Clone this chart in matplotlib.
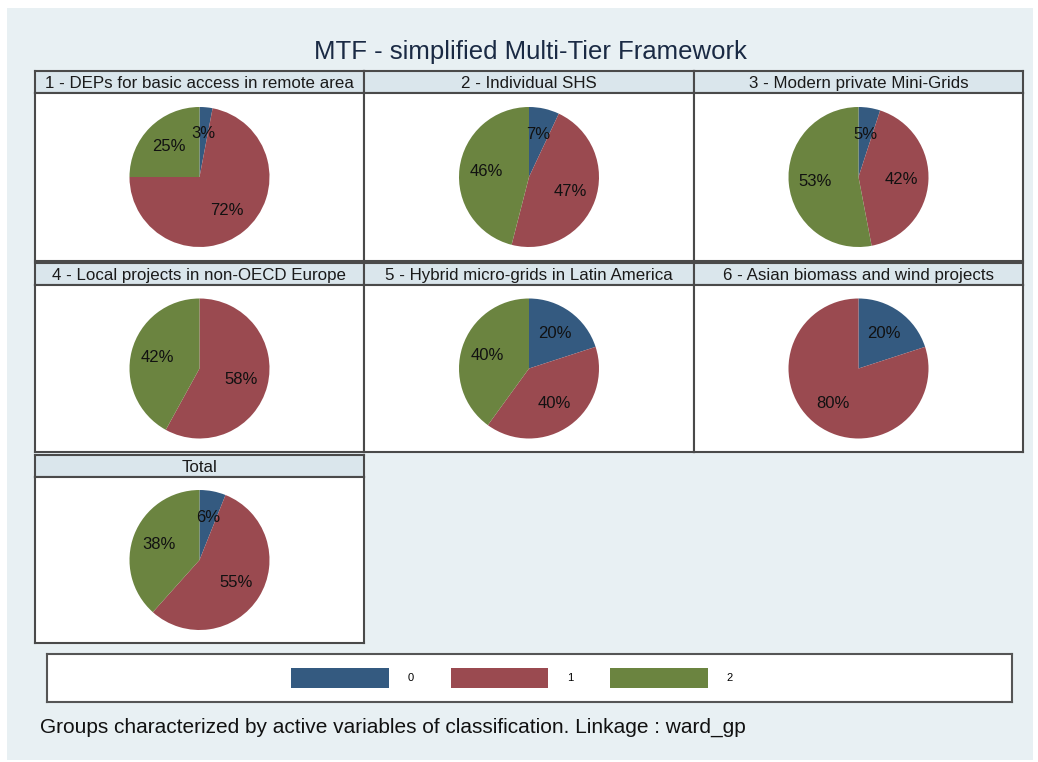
import numpy as np
import matplotlib
matplotlib.use("Agg")
import matplotlib.pyplot as plt
from matplotlib.patches import Patch

plt.rcParams['font.family'] = ['Liberation Sans', 'DejaVu Sans']

W, H = 1038, 762

titles = ["1 - DEPs for basic access in remote area",
          "2 - Individual SHS",
          "3 - Modern private Mini-Grids",
          "4 - Local projects in non-OECD Europe",
          "5 - Hybrid micro-grids in Latin America",
          "6 - Asian biomass and wind projects",
          "Total"]
group0 = [3, 7, 5, 0, 20, 20, 6]
group1 = [72, 47, 42, 58, 40, 80, 55]
group2 = [25, 46, 53, 42, 40, 0, 38]
legend_labels = ["0", "1", "2"]
colors = ["#345a80", "#9a4a50", "#6b8440"]

def box(x0, y0, x1, y1):
    return [x0 / W, 1 - y1 / H, (x1 - x0) / W, (y1 - y0) / H]

fig = plt.figure(figsize=(W / 100, H / 100), dpi=100)
fig.patch.set_facecolor("white")

# light background
bg = fig.add_axes(box(7, 8, 1033, 760))
bg.set_facecolor("#e8f0f3")
bg.set_xticks([]); bg.set_yticks([])
for s in bg.spines.values():
    s.set_visible(False)

fig.text(530 / W, 1 - 52 / H, "MTF - simplified Multi-Tier Framework",
         ha="center", va="center", fontsize=18.5, color="#1a2a44")

xs = [35, 364, 694, 1023]
row_tops = [71, 263, 455]
head_h = 22
plot_bottoms = [261, 452, 643]
R = 70.0

def make_label(vals):
    tot = sum(vals)
    def f(p):
        v = p * tot / 100
        return f"{v:.0f}%" if v > 0.5 else ""
    return f

for i, t in enumerate(titles):
    r, c = divmod(i, 3)
    x0, x1 = xs[c], xs[c + 1]
    top = row_tops[r]
    # header strip
    hax = fig.add_axes(box(x0, top, x1, top + head_h))
    hax.set_facecolor("#dae6ec")
    hax.set_xticks([]); hax.set_yticks([])
    for s in hax.spines.values():
        s.set_color("#4a4a4a"); s.set_linewidth(1.5)
    hax.text(0.5, 0.45, t, ha="center", va="center", fontsize=12.2,
             color="#1a1a1a", transform=hax.transAxes)
    # pie area
    y0, y1 = top + head_h, plot_bottoms[r]
    ax = fig.add_axes(box(x0, y0, x1, y1))
    vals = [group0[i], group1[i], group2[i]]
    ax.pie(vals, colors=colors, startangle=90, counterclock=False,
           radius=1, pctdistance=0.62, autopct=make_label(vals),
           wedgeprops=dict(linewidth=0),
           textprops=dict(fontsize=12, color="#111111"))
    ax.set_frame_on(True)
    ax.set_facecolor("white")
    for s in ax.spines.values():
        s.set_visible(True); s.set_color("#4a4a4a"); s.set_linewidth(1.5)
    ax.set_aspect("auto")
    hw = (x1 - x0) / 2 / R
    hh = (y1 - y0) / 2 / R
    ax.set_xlim(-hw, hw)
    ax.set_ylim(-hh, hh)
    ax.set_xticks([]); ax.set_yticks([])

# legend box
lax = fig.add_axes(box(47, 654, 1012, 702))
lax.set_facecolor("white")
lax.set_xticks([]); lax.set_yticks([])
for s in lax.spines.values():
    s.set_color("#555555"); s.set_linewidth(1.5)
handles = [Patch(facecolor=colors[k], edgecolor="none", label=legend_labels[k]) for k in range(3)]
lax.legend(handles=handles, loc="center", bbox_to_anchor=(0.482, 0.5), ncol=3,
           frameon=False, fontsize=8, handlelength=8.8, handleheight=2.4,
           handletextpad=1.7, columnspacing=3.3)

fig.text(40 / W, 1 - 727 / H,
         "Groups characterized by active variables of classification. Linkage : ward_gp",
         ha="left", va="center", fontsize=15, color="#111111")

fig.savefig("out.png", dpi=100)
